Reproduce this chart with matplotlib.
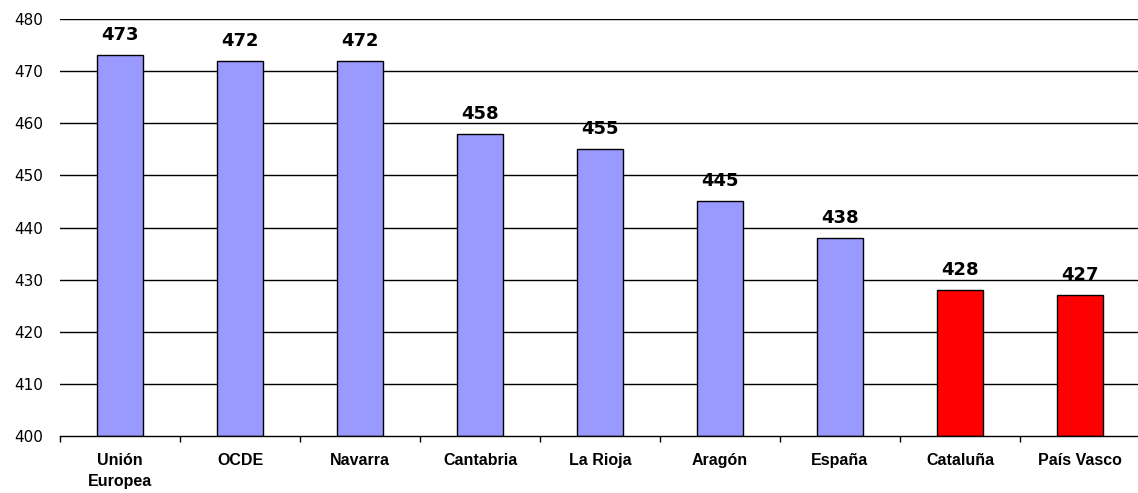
import matplotlib
matplotlib.use("Agg")
import matplotlib.pyplot as plt
import numpy as np

categories = ["Unión\nEuropea", "OCDE", "Navarra", "Cantabria", "La Rioja",
              "Aragón", "España", "Cataluña", "País Vasco"]
values = [473, 472, 472, 458, 455, 445, 438, 428, 427]
colors = ["#9999FF"] * 7 + ["#FF0000"] * 2
yticks = [400, 410, 420, 430, 440, 450, 460, 470, 480]

plt.rcParams['font.family'] = ['Liberation Sans', 'DejaVu Sans']

W, H = 1138, 493
fig = plt.figure(figsize=(W / 100, H / 100), dpi=100)
ax = fig.add_axes([60 / W, (H - 436) / H, 1080 / W, (436 - 19) / H])

x = np.arange(len(categories))
ax.set_ylim(400, 480)
ax.set_xlim(-0.5, len(categories) - 0.5)
ax.set_yticks(yticks)
for y in yticks[1:]:
    ax.axhline(y, color="black", linewidth=1.0, zorder=1)

bars = ax.bar(x, [v - 400 for v in values], bottom=400, width=0.39,
              color=colors, edgecolor="black", linewidth=1.0, zorder=2)
for xi, v in zip(x, values):
    ax.annotate(str(v), (xi, v), xytext=(0, 8), textcoords="offset points",
                ha="center", va="bottom", fontsize=13, fontweight="bold",
                family=["DejaVu Sans"])

for s in ["top", "right", "left"]:
    ax.spines[s].set_visible(False)
ax.spines["bottom"].set_linewidth(1.0)

ax.set_xticks(x)
ax.set_xticklabels(categories, fontsize=11.5, fontweight="bold", linespacing=1.55)
ax.set_xticks(np.arange(-0.5, len(categories)), minor=True)
ax.tick_params(axis="x", which="major", length=0, pad=12)
ax.tick_params(axis="x", which="minor", length=4, width=1.0, direction="out")
ax.tick_params(axis="y", length=0, pad=12)
for lab in ax.get_yticklabels():
    lab.set_fontfamily(["DejaVu Sans"])
    lab.set_fontsize(11)

fig.savefig("out.png", dpi=100)
